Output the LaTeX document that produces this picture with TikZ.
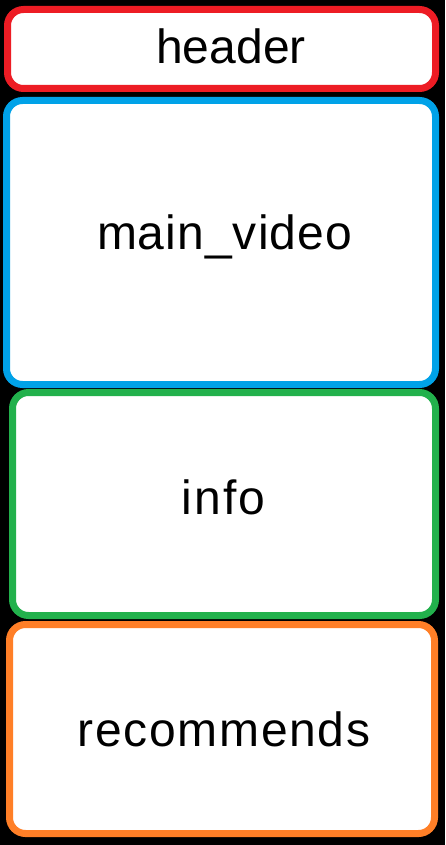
\documentclass[tikz,border=0pt]{standalone}
\usepackage{fontspec}
\setmainfont{Liberation Sans}
\definecolor{pred}{HTML}{ED1C24}
\definecolor{pblue}{HTML}{00A2E8}
\definecolor{pgreen}{HTML}{22B14C}
\definecolor{porange}{HTML}{FF7F27}
\newcommand{\trk}[1]{\addfontfeatures{LetterSpace=#1}}
\begin{document}
\begin{tikzpicture}[x=1pt,y=-1pt,
  panel/.style={line width=7pt,fill=white,rounded corners=16pt},
  lbl/.style={font=\fontsize{48}{56}\selectfont,text=black,inner sep=0pt,anchor=center}]
\fill[black] (0,0) rectangle (445,845);
\useasboundingbox (0,0) rectangle (445,845);
\draw[panel,draw=pred] (7.5,9.5) rectangle (435.5,88.5);
\draw[panel,draw=pblue] (6.5,100.5) rectangle (435.5,384.5);
\draw[panel,draw=pgreen] (12.5,392.5) rectangle (435.5,615.5);
\draw[panel,draw=porange] (9.5,624.5) rectangle (434.5,833.5);
\node[lbl] (header) at (231,46) {header};
\node[lbl] (mainvideo) at (224.5,237) {\trk{2.2}main\_video};
\node[lbl] (info) at (223.5,497) {\trk{4}info};
\node[lbl] (recommends) at (224,729) {\trk{3.5}recommends};
\end{tikzpicture}
\end{document}
